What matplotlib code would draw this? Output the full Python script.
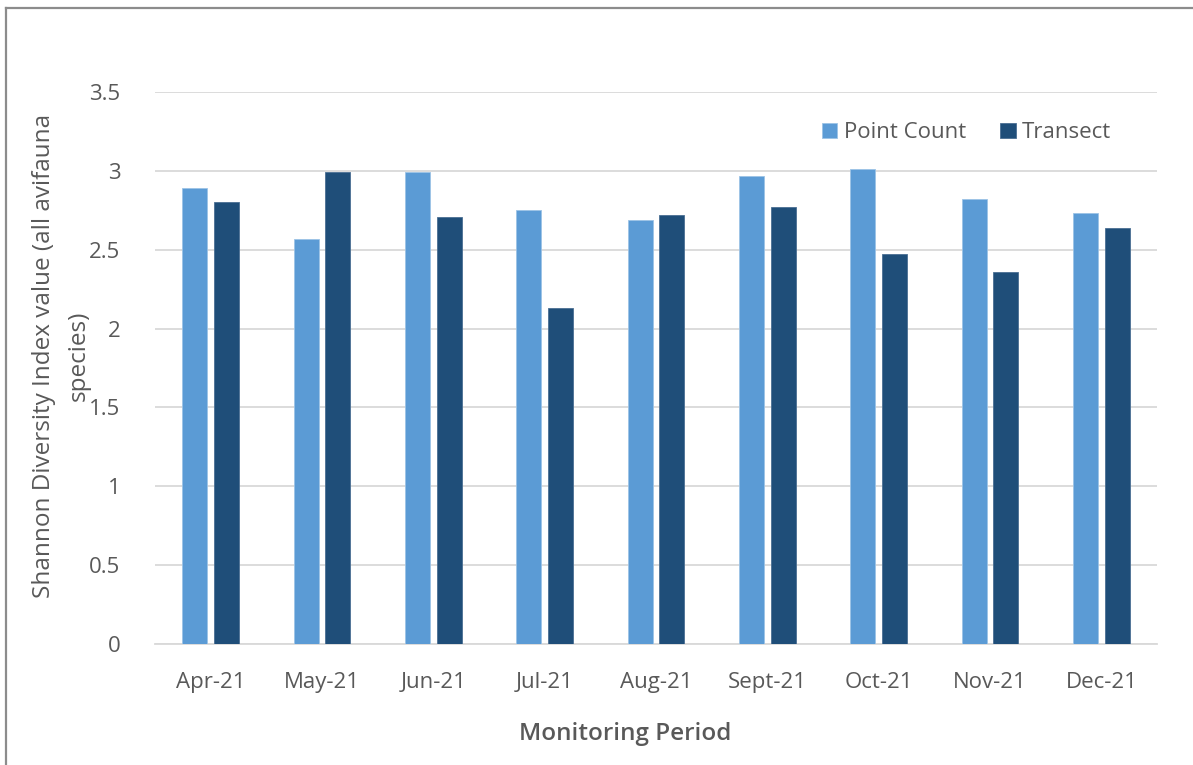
import matplotlib.pyplot as plt
import numpy as np
from matplotlib.lines import Line2D

plt.rcParams['font.family'] = ['Open Sans', 'DejaVu Sans']

months = ["Apr-21", "May-21", "Jun-21", "Jul-21", "Aug-21",
          "Sept-21", "Oct-21", "Nov-21", "Dec-21"]
point_count = [2.89, 2.57, 2.99, 2.75, 2.69, 2.97, 3.01, 2.82, 2.73]
transect = [2.80, 2.99, 2.71, 2.13, 2.72, 2.77, 2.47, 2.36, 2.64]
y_ticks = [0, 0.5, 1, 1.5, 2, 2.5, 3, 3.5]
y_tick_labels = ["0", "0.5", "1", "1.5", "2", "2.5", "3", "3.5"]


def main():
    W, H = 1193, 765
    fig = plt.figure(figsize=(W / 100, H / 100), dpi=100)
    ax = fig.add_axes([155 / W, 1 - 644 / H, (1157 - 155) / W, (644 - 92) / H])

    text_col = "#595959"
    grid_col = "#D9D9D9"
    x = np.arange(len(months))
    bw = 0.225
    gap = 0.058
    ax.bar(x - (bw + gap) / 2, point_count, bw, color="#5B9BD5",
           edgecolor="#9CC3E6", linewidth=0.6, label="Point Count", zorder=3)
    ax.bar(x + (bw + gap) / 2, transect, bw, color="#1F4E79",
           edgecolor="#4A6F93", linewidth=0.6, label="Transect", zorder=3)

    ax.set_xlim(-0.5, len(months) - 0.5)
    ax.set_ylim(0, 3.5)
    ax.set_yticks(y_ticks)
    ax.set_yticklabels(y_tick_labels)
    ax.set_xticks(x)
    ax.set_xticklabels(months)
    ax.tick_params(axis="both", length=0, labelsize=16, colors=text_col)
    ax.tick_params(axis="x", pad=20)
    ax.tick_params(axis="y", pad=25)

    ax.grid(axis="y", color=grid_col, linewidth=1.3, zorder=0)
    for s in ["top", "right", "left"]:
        ax.spines[s].set_visible(False)
    ax.spines["bottom"].set_color(grid_col)
    ax.spines["bottom"].set_linewidth(1.3)

    fig.text(516 / W + 218 / W / 2, 1 - 734 / H, "Monitoring Period",
             ha="center", va="center", fontsize=17.5, fontweight="semibold",
             color=text_col)
    fig.text(61 / W, 1 - 356 / H,
             "Shannon Diversity Index value (all avifauna\nspecies)",
             rotation=90, ha="center", va="center", fontsize=17.5,
             color=text_col, linespacing=1.6, multialignment="center")

    fig.legend(loc="center left", bbox_to_anchor=(822 / W, 1 - 133 / H),
               ncol=2, frameon=False, fontsize=16, labelcolor=text_col,
               handlelength=0.68, handleheight=0.68, handletextpad=0.3,
               columnspacing=1.55, borderpad=0, borderaxespad=0)

    fig.add_artist(Line2D([6 / W, 6 / W], [0, 1 - 7.5 / H], color="#8C8C8C",
                          linewidth=1.6, transform=fig.transFigure))
    fig.add_artist(Line2D([6 / W, 1], [1 - 7.5 / H, 1 - 7.5 / H],
                          color="#8C8C8C", linewidth=1.6,
                          transform=fig.transFigure))

    fig.savefig("out.png", dpi=100)
    plt.close(fig)


if __name__ == "__main__":
    main()
